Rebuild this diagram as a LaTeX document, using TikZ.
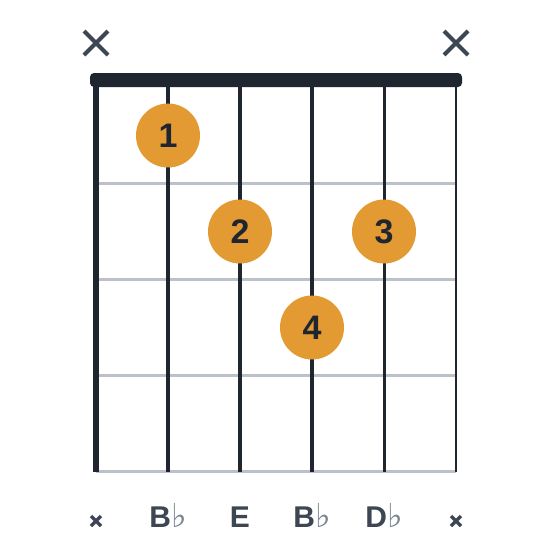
\documentclass[tikz,border=0pt]{standalone}
\usepackage{fontspec}
\setmainfont{Liberation Sans}
\newfontfamily\symfont{DejaVu Sans}
\definecolor{stringc}{HTML}{1F2630}
\definecolor{fretc}{HTML}{BCC0C7}
\definecolor{dotc}{HTML}{E39A33}
\definecolor{labc}{HTML}{3D4754}
\definecolor{flatc}{HTML}{7A828E}
\newcommand\myflat{{\symfont\mdseries\fontsize{33}{33}\selectfont\color{flatc}♭}}
\begin{document}
\begin{tikzpicture}[x=1pt,y=-1pt,
  fretline/.style={draw=fretc,line width=3pt},
  strline/.style={draw=stringc},
  fingerdot/.style={circle,fill=dotc,minimum size=64pt,inner sep=0pt,text=stringc,font=\fontsize{34}{34}\selectfont\bfseries},
  mutemark/.style={draw=labc,line width=4pt},
  smallmute/.style={draw=labc,line width=3.5pt},
  notelab/.style={anchor=base,inner sep=0pt,text=labc,font=\fontsize{30}{30}\selectfont\bfseries}
]
\useasboundingbox (0,0) rectangle (560,560);
\fill[white] (0,0) rectangle (560,560);
% frets
\foreach \y in {183.5,279.5,375.5,471.5} \draw[fretline] (96,\y) -- (456,\y);
% strings
\draw[strline,line width=5.5pt] (96,80) -- (96,471.5);
\draw[strline,line width=4.7pt] (168,80) -- (168,471.5);
\draw[strline,line width=4pt] (240,80) -- (240,471.5);
\draw[strline,line width=3.5pt] (312,80) -- (312,471.5);
\draw[strline,line width=3pt] (384,80) -- (384,471.5);
\draw[strline,line width=2pt] (456,80) -- (456,471.5);
% nut
\fill[stringc,rounded corners=4pt] (90,73) rectangle (462,87);
% mute marks top
\draw[mutemark] (84,31) -- (108,55) (108,31) -- (84,55);
\draw[mutemark] (444,31) -- (468,55) (468,31) -- (444,55);
% finger dots
\node[fingerdot] (f1) at (168,135.5) {1};
\node[fingerdot] (f2) at (240,231.5) {2};
\node[fingerdot] (f3) at (384,231.5) {3};
\node[fingerdot] (f4) at (312,327.5) {4};
% bottom labels
\draw[smallmute] (91,516) -- (101,526) (101,516) -- (91,526);
\draw[smallmute] (451,516) -- (461,526) (461,516) -- (451,526);
\node[notelab] (l2) at (168,527) {B\myflat};
\node[notelab] (l3) at (240,527) {E};
\node[notelab] (l4) at (312,527) {B\myflat};
\node[notelab] (l5) at (384,527) {D\myflat};
\end{tikzpicture}
\end{document}
